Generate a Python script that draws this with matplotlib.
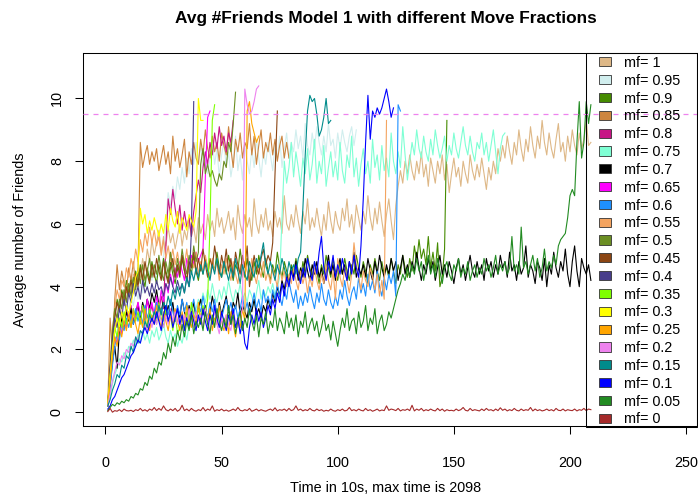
import numpy as np
import matplotlib
matplotlib.use("Agg")
import matplotlib.pyplot as plt
from matplotlib.patches import Patch, Rectangle

plt.rcParams['font.family'] = 'Liberation Sans'

# average number of friends per 10s step, one run per move fraction (mf)
mf_100 = [
    0.3, 1.1, 1.9, 2.6, 3.1, 2.8, 3.4, 3.9, 3.5, 4.1,
    3.8, 4.4, 4.0, 4.6, 4.3, 4.9, 4.5, 5.2, 4.8, 5.5,
    5.0, 5.4, 5.8, 5.1, 5.6, 5.3, 5.9, 5.4, 5.7, 5.2,
    5.6, 6.0, 5.3, 5.8, 5.5, 6.1, 5.6, 5.9, 5.4, 6.2,
    5.7, 6.0, 5.5, 6.3, 5.8, 6.1, 5.6, 6.5, 5.9, 6.2,
    5.7, 6.0, 6.4, 5.8, 6.2, 5.5, 6.6, 6.0, 5.7, 6.3,
    5.9, 6.2, 5.6, 6.8, 6.0, 5.7, 6.3, 5.9, 6.5, 5.8,
    6.1, 5.6, 6.4, 5.9, 6.2, 5.7, 6.9, 6.0, 5.8, 6.3,
    5.9, 6.6, 6.1, 5.7, 6.4, 6.0, 6.8, 5.8, 6.2, 5.9,
    6.5, 6.0, 5.6, 6.3, 5.8, 6.7, 6.1, 5.7, 6.4, 6.0,
    5.8, 6.5, 6.1, 6.8, 5.9, 6.3, 5.7, 6.6, 6.2, 5.8,
    6.4, 6.0, 6.9, 6.2, 5.8, 6.5, 6.0, 6.7, 6.1, 5.6,
    6.3, 6.8, 6.1, 5.5, 6.6, 7.2, 7.7, 7.3, 8.0, 7.6,
    8.2, 7.7, 7.4, 8.0, 7.6, 8.3, 7.5, 7.9, 7.2, 8.1,
    7.7, 7.3, 8.0, 7.6, 8.2, 7.4, 7.9, 7.0, 7.6, 8.1,
    7.5, 7.8, 7.2, 8.0, 7.6, 7.3, 8.2, 7.7, 7.4, 7.9,
    7.5, 8.1, 7.6, 7.1, 7.8, 7.4, 8.0, 7.6, 8.4, 8.0,
    8.5, 8.1, 8.8, 8.3, 7.9, 8.6, 8.2, 9.0, 8.4, 8.0,
    8.7, 8.3, 9.1, 8.5, 8.1, 8.8, 8.4, 9.3, 8.6, 8.2,
    8.9, 8.4, 8.1, 8.7, 9.2, 8.3, 8.6, 8.0, 8.8, 8.3,
    9.0, 8.5, 8.2, 8.9, 8.4, 8.7, 9.3, 8.5, 8.6]
mf_095 = [
    0.2, 0.8, 1.5, 2.1, 2.6, 2.9, 3.2, 3.0, 3.5, 3.3,
    3.7, 3.4, 3.9, 3.6, 4.1, 3.8, 4.3, 3.9, 4.5, 4.2,
    4.6, 4.3, 4.8, 4.5, 5.0, 6.1, 7.0, 6.6, 7.2, 6.8,
    7.5, 7.1, 7.8, 7.3, 8.1, 7.6, 8.4, 7.9, 8.6, 8.0,
    8.5, 7.8, 8.3, 7.6, 8.1, 8.7, 7.9, 8.4, 7.5, 8.2,
    8.6, 7.8, 8.3, 7.5, 8.0, 8.8, 7.7, 8.2, 7.4, 8.5,
    8.0, 7.6, 8.4, 7.8, 8.7, 8.1, 7.5, 8.3, 7.9, 8.6,
    8.2, 7.7, 8.5, 8.0, 8.8, 7.8, 8.4, 8.9, 8.1, 8.6,
    8.3, 9.0, 8.4, 8.8, 8.1, 9.2, 8.5, 8.2, 8.9, 8.4,
    9.1, 8.6, 8.2, 8.8, 8.3, 9.2, 8.5, 8.7, 8.1, 8.9,
    8.4, 9.0, 8.6, 8.3, 8.8, 9.1, 8.5, 9.0]
mf_090 = [
    0.2, 1.3, 2.4, 3.1, 3.6, 3.3, 3.9, 3.6, 4.2, 3.8,
    4.3, 4.0, 4.5, 4.1, 4.7, 4.3, 4.0, 4.6, 4.2, 4.8,
    4.4, 4.1, 4.7, 4.3, 4.9, 4.5, 4.2, 4.8, 4.4, 4.1,
    4.6, 4.3, 4.9, 4.5, 4.2, 4.7, 4.4, 5.0, 4.5, 4.2,
    4.7, 4.4, 4.9, 4.6, 4.3, 4.8, 4.5, 5.1, 4.6, 4.3,
    4.8, 4.4, 5.0, 4.6, 4.2, 4.7, 4.5, 5.2, 4.6, 4.3,
    4.9, 4.5, 4.2, 4.8, 4.4, 5.0, 4.6, 4.3, 4.9, 4.5,
    4.2, 4.7, 4.4, 5.1, 4.6, 4.3, 4.8, 4.5, 4.2, 4.7,
    4.4, 4.9, 4.5, 4.2, 4.8, 4.4, 5.0, 4.6, 4.3, 4.8,
    4.5, 4.1, 4.7, 4.4, 5.0, 4.6, 4.3, 4.9, 4.5, 4.2,
    4.8, 4.4, 4.9, 4.5, 4.2, 4.7, 4.4, 5.0, 4.6, 4.3,
    4.8, 4.5, 4.1, 4.7, 4.4, 4.9, 4.5, 4.2, 4.8, 4.4,
    4.6, 4.3, 4.9, 4.5, 4.1, 4.7, 4.4, 5.0, 4.6, 4.3,
    4.9, 4.5, 5.3, 4.8, 5.5, 4.9, 5.2, 4.7, 5.6, 4.6,
    5.1, 4.5, 5.4, 4.0, 4.3, 5.2, 9.3]
mf_085 = [
    0.2, 3.0, 1.9, 3.6, 4.7, 3.9, 4.5, 4.1, 3.8, 4.6,
    4.2, 4.8, 4.0, 4.5, 8.6, 7.8, 8.2, 8.5, 7.9, 8.3,
    8.0, 8.4, 7.7, 8.1, 8.5, 7.9, 8.3, 7.6, 8.8, 8.0,
    8.4, 7.8, 8.2, 8.7, 7.5, 8.3, 7.9, 8.6, 8.1, 7.9,
    8.7, 8.2, 9.0, 8.4, 8.1, 8.8, 8.3, 8.6, 8.0, 8.9,
    8.5, 8.2, 9.1, 8.4, 7.8, 8.7, 8.3, 8.9, 8.1, 8.6,
    8.4, 9.2, 8.2, 8.8, 7.9, 8.5, 9.0, 8.1, 8.6, 8.3,
    8.9, 8.2, 8.7, 8.0, 8.5, 8.8, 8.1, 8.6, 8.1]
mf_080 = [
    0.2, 1.2, 2.0, 2.6, 2.9, 2.6, 3.1, 2.8, 3.3, 3.0,
    3.4, 2.9, 3.2, 3.5, 3.0, 3.3, 2.9, 3.6, 3.1, 3.4,
    3.0, 3.5, 3.2, 3.7, 3.3, 5.3, 6.8, 6.3, 7.1, 6.5,
    6.0, 6.6, 5.8, 6.4, 5.9, 6.2, 5.6, 6.4, 6.9, 7.4,
    7.0, 7.8, 8.3, 7.9, 8.6, 8.2, 8.9, 8.4, 9.1, 8.5,
    8.8, 8.3, 8.9, 8.6, 9.3]
mf_075 = [
    0.2, 0.5, 0.9, 1.2, 1.4, 1.7, 1.6, 1.9, 1.8, 2.1,
    2.0, 2.3, 2.1, 2.5, 2.2, 2.6, 2.3, 2.5, 2.2, 2.6,
    2.4, 2.7, 2.3, 2.5, 2.8, 2.4, 2.2, 2.6, 2.3, 2.5,
    2.1, 2.4, 2.2, 2.6, 2.3, 2.8, 3.1, 2.9, 3.3, 3.6,
    3.4, 3.8, 3.5, 3.9, 3.6, 4.1, 3.7, 3.5, 3.9, 3.6,
    4.0, 3.7, 4.2, 3.8, 3.5, 3.9, 3.7, 4.1, 3.6, 3.8,
    3.5, 3.9, 3.7, 3.4, 3.8, 4.2, 3.6, 3.9, 3.7, 4.0,
    3.8, 4.1, 3.7, 4.0, 4.3, 6.2, 8.0, 7.3, 7.8, 8.6,
    7.5, 8.3, 7.8, 7.2, 8.1, 7.6, 8.4, 7.4, 7.9, 8.7,
    7.3, 8.0, 7.6, 8.5, 7.2, 7.8, 8.3, 7.5, 8.0, 7.4,
    8.6, 7.7, 7.3, 8.2, 7.8, 8.8, 7.5, 8.1, 7.2, 7.9,
    8.4, 7.6, 8.0, 7.3, 8.7, 7.8, 8.2, 7.4, 8.5, 7.7,
    8.1, 7.5, 8.9, 8.0, 7.6, 8.3, 7.8, 9.1, 8.2, 7.4,
    8.0, 8.6, 8.2, 9.0, 8.4, 8.1, 8.8, 8.3, 8.0, 8.7,
    8.2, 9.0, 8.5, 8.1, 8.4, 8.8, 8.0, 8.5, 8.2, 8.9,
    8.4, 8.1, 8.6, 9.1, 8.5, 8.2, 8.8, 8.3, 8.0, 8.6,
    8.4, 8.9, 8.2, 8.6, 8.0, 8.5, 9.0, 8.3, 7.6, 8.4,
    8.8, 8.9]
mf_070 = [
    0.2, 0.9, 1.6, 2.1, 1.4, 2.6, 3.0, 2.7, 3.2, 2.9,
    3.3, 2.8, 3.1, 3.4, 3.0, 3.5, 3.2, 3.6, 3.3, 3.8,
    3.5, 3.9, 3.4, 3.2, 3.6, 3.0, 3.4, 3.1, 3.5, 2.9,
    3.3, 3.0, 3.6, 3.2, 2.9, 3.4, 3.1, 3.5, 3.0, 3.3,
    3.6, 3.1, 3.4, 2.9, 3.2, 3.7, 3.3, 3.0, 3.5, 3.1,
    3.4, 3.7, 3.2, 3.0, 3.5, 3.3, 3.8, 3.1, 3.4, 3.2,
    3.0, 3.5, 3.2, 3.6, 3.1, 3.3, 3.0, 3.4, 3.2, 3.6,
    3.3, 3.8, 3.5, 4.0, 3.7, 4.2, 3.9, 4.4, 4.1, 4.6,
    4.3, 4.8, 4.2, 4.6, 4.3, 4.9, 4.5, 4.2, 4.7, 4.4,
    4.8, 4.3, 4.6, 4.1, 4.5, 5.0, 4.4, 4.7, 4.2, 4.6,
    4.9, 4.4, 4.7, 4.2, 4.8, 4.5, 5.1, 4.3, 4.6, 4.4,
    4.7, 4.3, 4.9, 4.5, 4.2, 4.8, 4.4, 5.0, 4.6, 4.3,
    4.7, 4.4, 4.9, 4.5, 4.8, 4.2, 4.6, 5.0, 4.4, 4.7,
    4.3, 4.8, 4.5, 5.1, 4.6, 4.2, 4.7, 4.4, 4.9, 4.5,
    4.8, 4.2, 4.6, 5.0, 4.4, 4.7, 4.3, 4.8, 4.5, 4.1,
    4.6, 4.9, 4.4, 4.7, 4.2, 4.6, 5.0, 4.5, 4.3, 4.8,
    4.4, 4.7, 4.2, 4.9, 4.5, 4.8, 4.3, 4.7, 4.4, 5.0,
    4.6, 4.8, 4.3, 5.1, 4.5, 4.7, 4.2, 4.8, 4.4, 4.6,
    5.3, 4.3, 4.7, 4.5, 4.1, 4.8, 4.6, 4.2, 4.9, 4.0,
    4.7, 4.4, 5.1, 4.6, 4.3, 4.8, 4.5, 5.2, 4.4, 4.0,
    4.8, 5.3, 4.5, 4.0, 4.9, 4.6, 4.4, 4.7, 4.2]
mf_065 = [
    0.3, 1.0, 1.8, 2.4, 2.2, 2.8, 2.5, 3.0, 2.7, 3.2,
    2.9, 3.3, 3.0, 3.5, 3.1, 3.4, 3.0, 3.6, 3.2, 3.5,
    3.1, 3.7, 3.3, 3.9, 3.5, 4.1, 3.8, 4.4, 4.0, 4.6,
    4.3, 4.8, 4.5, 4.2, 4.9, 4.6, 5.0, 4.7, 5.1, 4.8,
    5.0, 5.2, 7.5, 9.4, 9.6]
mf_060 = [
    0.2, 0.8, 1.5, 2.1, 2.5, 2.3, 2.8, 2.6, 3.0, 2.7,
    3.1, 2.8, 3.3, 2.9, 3.2, 2.8, 3.4, 3.0, 3.3, 2.9,
    3.2, 3.5, 3.0, 3.3, 2.9, 3.4, 3.1, 3.6, 3.2, 2.9,
    3.4, 3.1, 3.6, 3.2, 3.5, 3.0, 3.3, 3.6, 3.1, 3.4,
    3.2, 3.7, 3.3, 3.0, 3.5, 3.2, 3.6, 3.1, 3.4, 3.0,
    3.3, 3.6, 3.2, 3.5, 3.1, 3.4, 3.0, 3.3, 3.7, 3.2,
    3.5, 3.1, 3.4, 3.8, 3.3, 3.6, 3.2, 3.9, 3.5, 3.7,
    3.4, 3.9, 3.6, 4.1, 3.7, 3.4, 3.9, 3.6, 4.2, 3.8,
    3.5, 3.9, 3.3, 3.7, 3.4, 3.8, 3.5, 4.0, 3.6, 3.3,
    3.8, 3.5, 4.1, 3.6, 3.4, 3.9, 3.5, 3.3, 3.7, 3.4,
    3.9, 3.6, 4.2, 3.7, 3.4, 3.8, 4.0, 3.6, 4.3, 3.8,
    4.1, 3.7, 4.4, 3.9, 4.2, 3.8, 4.5, 4.0, 3.7, 4.3,
    3.9, 4.4, 4.1, 4.5, 3.7, 9.8, 9.6]
mf_055 = [
    0.3, 1.5, 2.6, 3.3, 3.9, 3.6, 4.2, 4.0, 4.6, 4.3,
    4.9, 4.6, 5.2, 4.8, 5.5, 5.1, 5.7, 5.3, 5.9, 5.4,
    5.8, 5.3, 5.6, 5.0, 5.5, 4.9, 5.3, 4.8, 5.2, 4.7,
    5.1, 4.6, 5.0, 4.7, 5.2, 4.5, 4.9, 4.6, 5.1, 4.4,
    4.8, 4.5, 5.0, 4.6, 4.3, 4.9, 4.5, 4.8, 4.2, 4.7,
    4.4, 4.9, 4.5, 4.2, 4.8, 4.4, 4.1, 4.7, 4.3, 4.8,
    4.5, 4.2, 4.9, 4.4, 4.1, 4.6, 4.3, 4.8, 4.2, 4.5,
    4.1, 4.6, 4.3, 4.0, 4.7, 4.2, 4.5, 4.0, 4.4, 4.1,
    4.6, 4.2, 3.9, 4.5, 4.1, 4.4, 3.8, 4.3, 4.0, 4.6,
    4.2, 3.9, 4.4, 4.1, 4.7, 4.2, 3.9, 4.5, 3.6, 4.9,
    4.3, 4.0, 4.6, 4.2, 3.8, 4.4, 5.4, 4.7, 4.3, 3.9,
    4.5, 4.2, 4.0, 4.6, 4.3, 3.9, 4.4, 3.7, 4.2, 3.6,
    9.3]
mf_050 = [
    0.2, 1.5, 2.6, 3.3, 3.0, 3.6, 3.3, 3.9, 3.5, 4.1,
    3.7, 4.3, 3.9, 4.5, 4.1, 4.7, 4.2, 4.5, 4.9, 4.3,
    4.7, 4.4, 5.0, 4.5, 4.2, 4.8, 4.4, 5.1, 4.6, 4.3,
    4.9, 4.5, 5.2, 4.7, 4.4, 5.0, 4.6, 5.3, 4.8, 5.1,
    7.9, 8.4, 7.6, 7.9, 7.5, 7.7, 7.4, 7.2, 7.6, 7.4,
    8.0, 7.8, 8.6, 8.3, 9.2, 10.2]
mf_045 = [
    0.2, 1.3, 2.4, 3.0, 3.5, 3.2, 3.8, 3.4, 4.0, 3.7,
    4.2, 3.8, 4.4, 4.0, 4.6, 4.2, 4.8, 4.4, 4.1, 4.7,
    4.3, 4.9, 4.5, 4.2, 4.8, 4.4, 4.1, 4.6, 4.9, 4.3,
    4.7, 4.4, 5.0, 4.5, 4.2, 4.8, 4.6, 5.1, 4.4, 4.9,
    4.5, 5.2, 4.7, 4.3, 4.9, 4.6, 5.3, 4.8, 4.4, 5.0,
    4.6, 5.2, 4.5, 4.9, 4.3, 5.1, 4.7, 4.4, 5.0, 4.6,
    5.3, 4.0, 4.5, 5.0, 4.6, 4.4, 4.9, 5.2, 4.7, 5.0,
    4.8, 5.4, 7.6, 9.6]
mf_040 = [
    0.2, 1.4, 2.3, 3.0, 2.7, 3.3, 3.0, 3.6, 3.2, 3.8,
    3.5, 4.1, 3.7, 4.0, 3.6, 4.2, 3.8, 4.0, 3.7, 4.1,
    3.8, 4.2, 3.9, 4.0, 3.7, 4.1, 3.9, 4.3, 4.0, 3.8,
    4.2, 3.9, 4.1, 3.8, 4.3, 4.0, 5.8, 9.9]
mf_035 = [
    0.2, 1.1, 2.0, 2.7, 2.4, 3.0, 2.7, 3.2, 2.8, 3.1,
    2.7, 3.3, 2.9, 3.2, 2.8, 3.4, 3.0, 2.7, 3.3, 2.9,
    3.2, 2.8, 3.5, 3.0, 2.7, 3.3, 2.9, 3.1, 2.6, 3.2,
    2.5, 2.7, 3.0, 2.7, 3.2, 2.8, 3.5, 3.1, 2.8, 3.3,
    3.0, 3.4, 3.1, 3.6, 6.0, 9.3, 9.8]
mf_030 = [
    0.3, 1.2, 2.0, 2.6, 3.0, 2.7, 3.2, 2.9, 3.4, 3.1,
    3.5, 3.8, 4.3, 4.5, 6.5, 6.0, 6.3, 5.7, 6.1, 5.8,
    6.2, 5.9, 5.6, 6.0, 5.7, 6.3, 5.8, 6.5, 6.1, 5.9,
    6.4, 5.7, 6.2, 6.0, 5.8, 6.3, 6.1, 5.9, 6.4, 10.0,
    9.3, 9.3]
mf_025 = [
    0.2, 1.0, 1.8, 2.4, 2.1, 2.7, 2.4, 2.9, 2.6, 3.1,
    2.7, 3.2, 2.8, 2.5, 3.0, 2.7, 3.3, 2.9, 2.6, 3.1,
    2.8, 3.4, 3.0, 2.7, 3.2, 2.9, 2.6, 3.1, 2.8, 3.3,
    2.9, 2.6, 3.2, 2.8, 3.4, 3.0, 2.7, 3.1, 2.8, 3.5,
    3.0, 2.7, 3.2, 2.9, 3.3, 2.6, 3.0, 2.8, 3.4, 2.9,
    2.6, 3.1, 2.5, 3.2, 2.8, 2.4, 3.0, 2.7, 3.3, 2.9,
    9.6, 9.9, 9.2, 8.9, 8.6, 8.8]
mf_020 = [
    0.2, 0.6, 1.0, 1.3, 1.6, 1.5, 1.8, 1.7, 2.0, 1.9,
    2.2, 2.1, 2.4, 2.3, 2.6, 2.5, 2.8, 2.6, 3.0, 2.7,
    3.1, 2.8, 3.2, 2.9, 2.7, 3.1, 2.8, 3.3, 2.9, 3.2,
    2.8, 3.0, 2.6, 3.1, 2.8, 3.3, 2.9, 2.7, 3.2, 2.9,
    3.1, 2.7, 3.3, 3.0, 2.6, 2.9, 3.2, 2.8, 2.5, 3.0,
    2.7, 3.1, 2.8, 2.6, 3.2, 2.9, 2.7, 3.0, 3.3, 10.3,
    9.8, 9.5, 9.6, 9.9, 10.3, 10.4]
mf_015 = [
    0.2, 0.4, 0.7, 0.9, 1.2, 1.1, 1.5, 1.4, 1.8, 1.7,
    2.1, 1.9, 2.4, 2.2, 2.6, 2.5, 2.9, 2.7, 3.1, 2.9,
    3.2, 3.0, 3.4, 3.1, 3.5, 3.3, 3.7, 3.4, 3.9, 3.6,
    4.0, 3.7, 4.1, 3.8, 4.3, 4.0, 4.5, 4.2, 4.6, 4.3,
    4.7, 4.4, 4.8, 4.5, 4.2, 4.7, 4.4, 4.9, 4.5, 4.3,
    4.8, 4.5, 4.2, 4.6, 4.3, 4.9, 4.5, 4.1, 4.7, 4.4,
    4.2, 4.8, 4.5, 4.3, 4.9, 4.6, 5.0, 5.4, 4.7, 4.4,
    4.8, 4.5, 4.2, 4.7, 4.4, 4.9, 4.6, 4.3, 4.8, 4.5,
    4.7, 4.4, 4.9, 5.1, 6.5, 8.2, 9.6, 10.1, 9.9, 10.0,
    9.5, 8.8, 9.0, 9.4, 10.0, 9.2, 9.3]
mf_010 = [
    0.1, 0.2, 0.4, 0.5, 0.7, 0.9, 1.1, 1.2, 1.4, 1.6,
    1.8, 1.9, 2.1, 2.3, 2.2, 2.5, 2.7, 2.5, 2.8, 3.0,
    2.8, 3.2, 2.9, 2.6, 3.1, 3.4, 2.9, 3.2, 2.7, 3.0,
    3.3, 2.8, 3.1, 2.6, 3.0, 2.7, 3.2, 2.9, 2.6, 3.1,
    2.8, 3.3, 2.9, 2.6, 3.1, 2.8, 3.4, 3.0, 2.7, 3.2,
    2.9, 2.6, 3.1, 2.8, 3.3, 2.7, 3.0, 2.5, 2.9, 2.2,
    2.0, 2.7, 3.1, 2.8, 3.3, 2.9, 3.2, 2.7, 3.0, 3.4,
    3.1, 3.6, 3.3, 3.8, 3.5, 4.1, 3.7, 4.3, 4.0, 4.5,
    4.2, 4.7, 4.4, 4.1, 4.6, 4.3, 4.9, 4.5, 4.2, 4.8,
    4.4, 5.1, 5.6, 4.6, 4.2, 4.8, 4.5, 5.0, 4.3, 4.7,
    4.4, 4.9, 4.5, 4.2, 4.8, 4.4, 5.0, 4.6, 4.3, 5.3,
    6.8, 8.6, 10.1, 8.7, 9.6, 9.4, 9.7, 9.5, 9.7, 10.0,
    10.3, 9.9, 9.4, 9.7]
mf_005 = [
    0.05, 0.15, 0.25, 0.2, 0.3, 0.25, 0.35, 0.3, 0.4, 0.35,
    0.5, 0.45, 0.6, 0.55, 0.75, 0.7, 0.95, 0.85, 1.15, 1.05,
    1.4, 1.25, 1.6, 1.5, 1.9, 1.7, 2.2, 1.9, 2.4, 2.1,
    2.6, 2.3, 2.8, 2.4, 2.9, 2.6, 3.1, 2.5, 2.9, 2.7,
    3.0, 2.6, 3.2, 2.8, 2.5, 3.1, 2.7, 3.3, 2.9, 2.6,
    3.0, 2.7, 3.4, 2.8, 3.1, 2.5, 2.9, 3.2, 2.6, 3.0,
    2.7, 3.3, 2.9, 2.6, 3.1, 2.4, 3.0, 2.8, 3.2, 2.5,
    2.9, 2.7, 3.3, 2.6, 3.0, 2.8, 2.5, 3.2, 2.7, 3.0,
    2.6, 3.1, 2.4, 2.9, 2.7, 3.2, 2.5, 2.8, 3.0, 2.6,
    2.9, 2.4, 2.7, 3.1, 2.6, 2.8, 2.3, 2.9, 2.5, 2.1,
    2.6, 3.0, 2.7, 3.3, 2.6, 2.9, 3.0, 2.5, 3.2, 2.7,
    2.9, 3.4, 2.6, 3.0, 2.8, 3.3, 2.5, 2.9, 3.1, 2.6,
    2.8, 3.2, 3.0, 3.3, 3.6, 3.9, 4.1, 4.4, 4.2, 4.6,
    4.3, 4.7, 4.4, 4.9, 4.5, 4.8, 4.2, 4.6, 5.0, 4.4,
    4.7, 4.3, 4.9, 4.5, 4.1, 4.6, 4.8, 4.4, 4.2, 4.7,
    4.5, 4.9, 4.3, 4.6, 4.4, 4.8, 4.2, 4.5, 4.7, 4.3,
    4.6, 4.4, 4.9, 4.5, 4.7, 4.3, 4.6, 5.0, 4.4, 4.7,
    4.5, 4.8, 4.4, 4.6, 5.6, 4.5, 4.7, 4.4, 5.9, 4.6,
    4.8, 4.4, 4.7, 5.0, 4.5, 4.9, 4.3, 4.6, 5.2, 4.5,
    4.8, 4.6, 5.0, 4.7, 5.3, 5.5, 5.6, 5.7, 6.2, 6.9,
    7.1, 6.9, 8.6, 9.9, 8.1, 8.6, 9.9, 9.2, 9.8]
mf_000 = [
    0.02, 0.12, 0.0, 0.05, 0.03, 0.08, 0.02, 0.1, 0.05, 0.04,
    0.06, 0.02, 0.08, 0.05, 0.12, 0.04, 0.08, 0.03, 0.1, 0.06,
    0.15, 0.05, 0.12, 0.06, 0.2, 0.08, 0.04, 0.1, 0.05, 0.12,
    0.03, 0.08, 0.22, 0.05, 0.1, 0.04, 0.12, 0.06, 0.03, 0.08,
    0.05, 0.15, 0.04, 0.1, 0.06, 0.2, 0.03, 0.08, 0.05, 0.1,
    0.04, 0.07, 0.03, 0.06, 0.1, 0.05, 0.15, 0.06, 0.04, 0.08,
    0.05, 0.12, 0.03, 0.06, 0.1, 0.04, 0.08, 0.05, 0.03, 0.07,
    0.1, 0.05, 0.14, 0.04, 0.08, 0.06, 0.1, 0.04, 0.12, 0.05,
    0.08, 0.2, 0.06, 0.1, 0.04, 0.08, 0.05, 0.12, 0.06, 0.04,
    0.1, 0.05, 0.08, 0.03, 0.06, 0.04, 0.1, 0.05, 0.03, 0.08,
    0.05, 0.1, 0.04, 0.06, 0.15, 0.05, 0.08, 0.04, 0.1, 0.06,
    0.04, 0.12, 0.05, 0.08, 0.03, 0.06, 0.1, 0.04, 0.07, 0.05,
    0.2, 0.06, 0.1, 0.08, 0.05, 0.12, 0.04, 0.08, 0.06, 0.1,
    0.05, 0.22, 0.04, 0.1, 0.06, 0.12, 0.04, 0.08, 0.05, 0.1,
    0.06, 0.04, 0.12, 0.05, 0.1, 0.03, 0.08, 0.05, 0.06, 0.04,
    0.1, 0.05, 0.08, 0.15, 0.06, 0.04, 0.12, 0.05, 0.08, 0.06,
    0.04, 0.1, 0.05, 0.12, 0.06, 0.08, 0.04, 0.1, 0.05, 0.14,
    0.06, 0.1, 0.04, 0.08, 0.05, 0.12, 0.06, 0.04, 0.1, 0.05,
    0.08, 0.06, 0.15, 0.04, 0.1, 0.05, 0.08, 0.04, 0.06, 0.1,
    0.05, 0.08, 0.04, 0.12, 0.06, 0.05, 0.1, 0.04, 0.08, 0.06,
    0.05, 0.1, 0.04, 0.08, 0.06, 0.12, 0.05, 0.1, 0.08]

labels = ["mf= 1", "mf= 0.95", "mf= 0.9", "mf= 0.85", "mf= 0.8", "mf= 0.75",
          "mf= 0.7", "mf= 0.65", "mf= 0.6", "mf= 0.55", "mf= 0.5", "mf= 0.45",
          "mf= 0.4", "mf= 0.35", "mf= 0.3", "mf= 0.25", "mf= 0.2", "mf= 0.15",
          "mf= 0.1", "mf= 0.05", "mf= 0"]
series = [mf_100, mf_095, mf_090, mf_085, mf_080, mf_075, mf_070, mf_065,
          mf_060, mf_055, mf_050, mf_045, mf_040, mf_035, mf_030, mf_025,
          mf_020, mf_015, mf_010, mf_005, mf_000]
colors = ["#DEB887", "#D1EEEE", "#458B00", "#CD853F", "#C71585", "#7FFFD4",
          "#000000", "#FF00FF", "#1E90FF", "#F4A460", "#6B8E23", "#8B4513",
          "#483D8B", "#7FFF00", "#FFFF00", "#FFA500", "#EE82EE", "#008B8B",
          "#0000FF", "#228B22", "#A52A2A"]
target_friends = 9.5

fig = plt.figure(figsize=(6.98, 4.98), dpi=100)
ax = fig.add_axes([0.1185, 0.1446, 0.8801, 0.7484])

for i, (vals, col) in enumerate(zip(series, colors)):
    t = np.arange(1, len(vals) + 1)
    ax.plot(t, vals, color=col, lw=0.8, zorder=2 + i * 0.01)

ax.axhline(target_friends, color="#EE82EE", lw=0.9, ls=(0, (4, 4)), zorder=3)

ax.set_xlim(-9.8, 254.7)
ax.set_ylim(-0.44, 11.44)
ax.set_xticks([0, 50, 100, 150, 200, 250])
ax.set_yticks([0, 2, 4, 6, 8, 10])
ax.tick_params(direction="out", length=5.5, width=0.75, labelsize=10.4)
ax.tick_params(axis="x", pad=16)
ax.tick_params(axis="y", pad=8, labelrotation=90)
for lbl in ax.get_yticklabels():
    lbl.set_va("center")
for s in ax.spines.values():
    s.set_linewidth(0.75)

ax.set_xlabel("Time in 10s, max time is 2098", fontsize=10.4, va="center")
ax.xaxis.set_label_coords((386 - 82.7) / 614.3, (426 - 488) / 372.7)
ax.set_ylabel("Average number of Friends", fontsize=10.4, va="center")
ax.yaxis.set_label_coords((20 - 82.7) / 614.3, 0.5)
fig.text(386 / 698, 1 - 18 / 498, "Avg #Friends Model 1 with different Move Fractions",
         ha="center", va="center", fontsize=12.45, fontweight="bold")

handles = [Patch(facecolor=c, edgecolor="#333333", linewidth=0.6, label=l)
           for c, l in zip(colors, labels)]
ax.legend(handles=handles, loc="upper left", bbox_to_anchor=((599 - 82.7) / 614.3, 0.993),
          frameon=False, borderpad=0, borderaxespad=0, fontsize=10.4,
          handlelength=0.83, handleheight=0.6, handletextpad=0.9, labelspacing=0.265)
ax.add_patch(Rectangle(((586 - 82.7) / 614.3, -1 / 372.7), 111 / 614.3, 374 / 372.7,
                       transform=ax.transAxes, fill=False, lw=0.75, ec="black",
                       clip_on=False, zorder=5))

fig.savefig("out.png", dpi=100)
